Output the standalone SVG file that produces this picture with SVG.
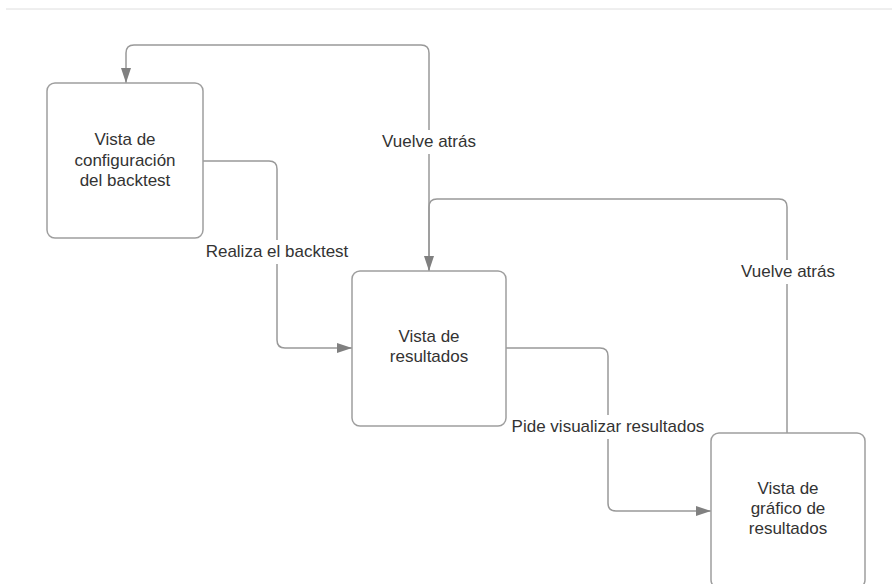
<svg xmlns="http://www.w3.org/2000/svg" width="892" height="584" viewBox="0 0 892 584">
<defs>
<style>
.node{fill:#fff;stroke:#9e9e9e;stroke-width:1.5}
.edge{fill:none;stroke:#999;stroke-width:1.5}
.t{font-family:"Liberation Sans",Arial,sans-serif;font-size:17px;fill:#333;text-anchor:middle}
.lbg{fill:#fff}
</style>
<marker id="arr" markerWidth="16" markerHeight="12" refX="15" refY="5" orient="auto" markerUnits="userSpaceOnUse">
<path d="M0,0 L15,5 L0,10 Z" fill="#808080"/>
</marker>
</defs>
<rect width="892" height="584" fill="#fff"/>
<line x1="6" y1="9" x2="892" y2="9" stroke="#dedede" stroke-width="1"/>
<g id="connectors">
<path class="edge" d="M429,271 L429,53 Q429,45 421,45 L134,45 Q126,45 126,53 L126,83" marker-end="url(#arr)"/>
<path class="edge" d="M787,433 L787,207 Q787,199 779,199 L437,199 Q429,199 429,207 L429,271" marker-end="url(#arr)"/>
<path class="edge" d="M203,161 L269,161 Q277,161 277,169 L277,340 Q277,348 285,348 L352,348" marker-end="url(#arr)"/>
<path class="edge" d="M506,348 L600,348 Q608,348 608,356 L608,503 Q608,511 616,511 L711,511" marker-end="url(#arr)"/>
<rect class="lbg" x="378" y="130" width="102" height="24"/>
<text class="t" x="429" y="147">Vuelve atrás</text>
<rect class="lbg" x="737" y="260" width="102" height="24"/>
<text class="t" x="788" y="277">Vuelve atrás</text>
<rect class="lbg" x="200" y="240" width="154" height="24"/>
<text class="t" x="277" y="257">Realiza el backtest</text>
<rect class="lbg" x="507" y="415" width="202" height="24"/>
<text class="t" x="608" y="432">Pide visualizar resultados</text>
</g>
<g id="node-config">
<rect class="node" x="47" y="83" width="156" height="155" rx="8"/>
<text class="t" x="125" y="145">Vista de</text>
<text class="t" x="125" y="165.5">configuración</text>
<text class="t" x="125" y="186">del backtest</text>
</g>
<g id="node-resultados">
<rect class="node" x="352" y="271" width="154" height="155" rx="8"/>
<text class="t" x="429" y="342">Vista de</text>
<text class="t" x="429" y="362">resultados</text>
</g>
<g id="node-grafico">
<rect class="node" x="711" y="433" width="154" height="155" rx="8"/>
<text class="t" x="788" y="494">Vista de</text>
<text class="t" x="788" y="514">gráfico de</text>
<text class="t" x="788" y="534">resultados</text>
</g>
</svg>
